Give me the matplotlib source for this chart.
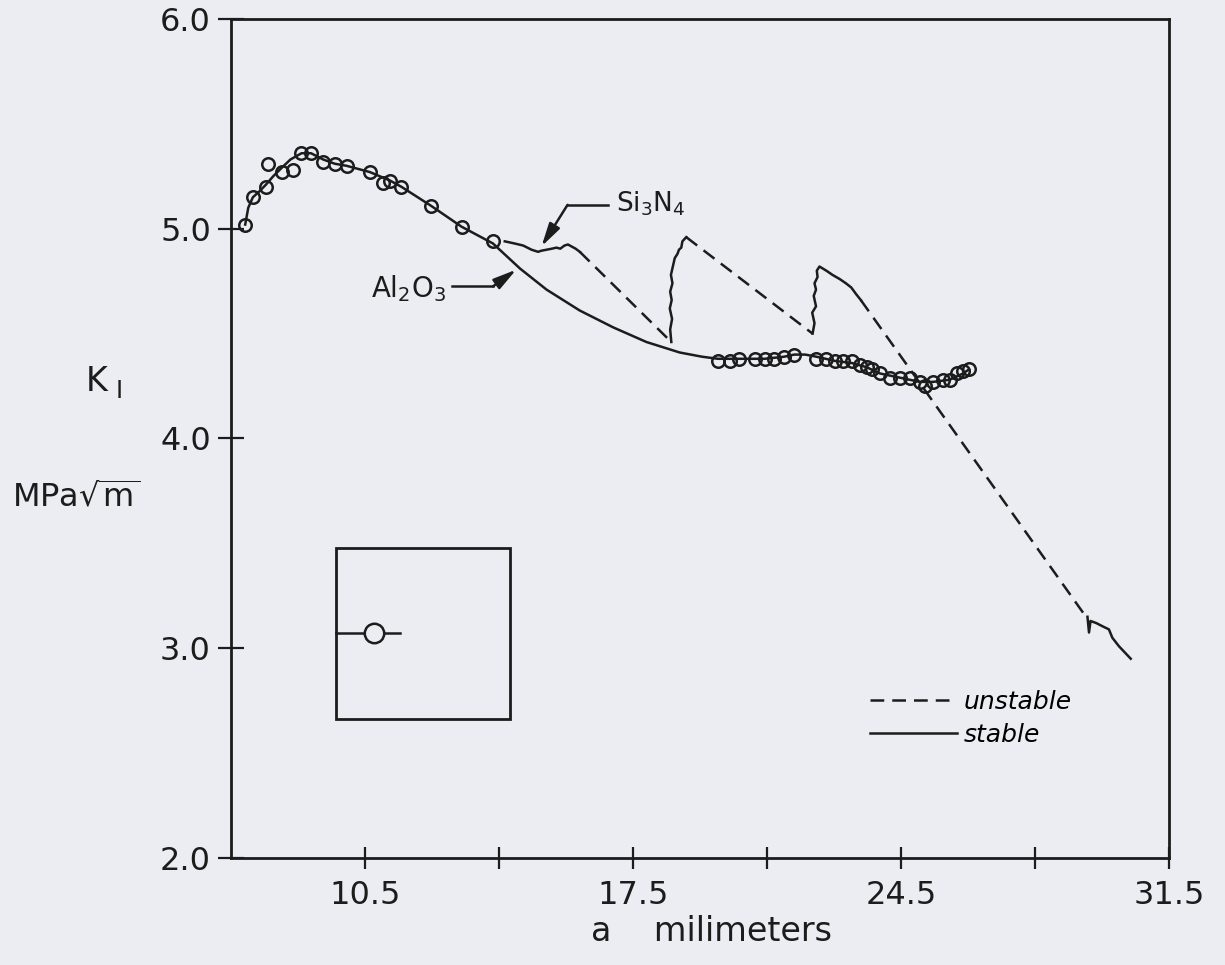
import matplotlib.pyplot as plt
from matplotlib.patches import Rectangle
from matplotlib.lines import Line2D

# Al2O3 measured points (open circles)
al2o3_x = [7.37, 7.57, 7.91, 7.97, 8.32, 8.63, 8.84, 9.09, 9.41, 9.71, 10.02, 10.63,
           10.96, 11.15, 11.45, 12.22, 13.02, 13.84,
           19.72, 20.03, 20.27, 20.68, 20.94, 21.19, 21.45, 21.71, 22.29, 22.53, 22.77,
           22.99, 23.21, 23.42, 23.60, 23.75, 23.95, 24.21, 24.47, 24.73, 24.99, 25.12,
           25.34, 25.60, 25.77, 25.95, 26.12, 26.28]
al2o3_y = [5.02, 5.15, 5.20, 5.31, 5.27, 5.28, 5.36, 5.36, 5.32, 5.31, 5.30, 5.27,
           5.22, 5.23, 5.20, 5.11, 5.01, 4.94,
           4.37, 4.37, 4.38, 4.38, 4.38, 4.38, 4.39, 4.40, 4.38, 4.38, 4.37,
           4.37, 4.37, 4.35, 4.34, 4.33, 4.31, 4.29, 4.29, 4.29, 4.27, 4.25,
           4.27, 4.28, 4.28, 4.31, 4.32, 4.33]

# smooth stable curve for Al2O3
stable_x = [7.37, 7.45, 7.57, 7.75, 7.91, 8.10, 8.32, 8.55, 8.84, 9.09, 9.41, 9.71,
            10.02, 10.63, 11.15, 11.45, 12.22, 13.02, 13.84, 14.55, 15.24, 16.11, 16.98,
            17.85, 18.72, 19.30, 19.72, 20.27, 20.94, 21.45, 21.71, 22.00, 22.29, 22.77,
            23.21, 23.60, 23.95, 24.47, 24.99, 25.34, 25.77, 26.12, 26.28]
stable_y = [5.02, 5.10, 5.15, 5.18, 5.21, 5.25, 5.29, 5.33, 5.36, 5.36, 5.33, 5.31,
            5.30, 5.27, 5.23, 5.20, 5.11, 5.01, 4.93, 4.81, 4.71, 4.61, 4.53,
            4.46, 4.41, 4.39, 4.38, 4.38, 4.38, 4.39, 4.40, 4.40, 4.39, 4.37,
            4.36, 4.34, 4.31, 4.29, 4.27, 4.27, 4.28, 4.31, 4.33]

# Si3N4 trace: solid = stable growth, dashed = unstable jumps
si_a_x = [14.15, 14.40, 14.63, 14.85, 15.02, 15.10, 15.24, 15.38, 15.50, 15.60, 15.71,
          15.80, 15.89, 16.00, 16.11]
si_a_y = [4.94, 4.93, 4.92, 4.90, 4.89, 4.895, 4.90, 4.905, 4.91, 4.905, 4.92,
          4.925, 4.916, 4.905, 4.89]
si_b_x = [16.11, 18.50]
si_b_y = [4.89, 4.46]
si_c_x = [18.50, 18.47, 18.52, 18.46, 18.51, 18.47, 18.53, 18.49, 18.54, 18.59, 18.66,
          18.70, 18.76, 18.79, 18.89]
si_c_y = [4.46, 4.52, 4.57, 4.62, 4.66, 4.70, 4.74, 4.78, 4.82, 4.86, 4.88,
          4.90, 4.91, 4.94, 4.96]
si_d_x = [18.89, 22.19]
si_d_y = [4.96, 4.50]
si_e_x = [22.19, 22.24, 22.18, 22.28, 22.22, 22.28, 22.24, 22.32, 22.30, 22.37, 22.55,
          22.71, 22.90, 23.06, 23.20, 23.32, 23.45]
si_e_y = [4.50, 4.55, 4.60, 4.63, 4.68, 4.71, 4.74, 4.77, 4.80, 4.82, 4.80,
          4.78, 4.76, 4.74, 4.72, 4.69, 4.66]
si_f_x = [23.45, 29.37]
si_f_y = [4.66, 3.14]
si_g_x = [29.37, 29.41, 29.45, 29.60, 29.76, 29.93, 30.02, 30.19, 30.50]
si_g_y = [3.15, 3.075, 3.13, 3.12, 3.105, 3.09, 3.05, 3.01, 2.95]

x_ticks = [10.5, 14.0, 17.5, 21.0, 24.5, 28.0, 31.5]
x_labels = ['10.5', '', '17.5', '', '24.5', '', '31.5']
y_ticks = [2.0, 3.0, 4.0, 5.0, 6.0]
y_labels = ['2.0', '3.0', '4.0', '5.0', '6.0']

bg = '#ecedf3'
ink = '#1c1c1c'
lw = 1.8
dash = (5.5, 3.2)

fig = plt.figure(figsize=(12.25, 9.65), dpi=100, facecolor=bg)
ax = fig.add_axes([0.1886, 0.1109, 0.7657, 0.8694], facecolor=bg)

ax.plot(stable_x, stable_y, color=ink, lw=lw, zorder=2)
ax.plot(al2o3_x, al2o3_y, 'o', ms=9, mfc='none', mec=ink, mew=1.8, zorder=3)

for xs, ys in [(si_a_x, si_a_y), (si_c_x, si_c_y), (si_e_x, si_e_y), (si_g_x, si_g_y)]:
    ax.plot(xs, ys, color=ink, lw=lw)
for xs, ys in [(si_b_x, si_b_y), (si_d_x, si_d_y), (si_f_x, si_f_y)]:
    ax.plot(xs, ys, color=ink, lw=lw, dashes=dash)

# symbol key box
ax.add_patch(Rectangle((9.74, 2.665), 4.54, 0.815, fill=False, ec=ink, lw=2.0))
ax.plot([9.74, 11.41], [3.075, 3.075], color=ink, lw=lw)
ax.plot([10.73], [3.075], 'o', ms=14, mfc=bg, mec=ink, mew=1.8)

# leaders
arrow = dict(arrowstyle='-|>,head_length=0.7,head_width=0.18', color=ink, lw=lw,
             shrinkA=0, shrinkB=0, mutation_scale=20)
ax.plot([15.79, 16.85], [5.114, 5.114], color=ink, lw=lw)
ax.annotate('', xy=(15.11, 4.916), xytext=(15.79, 5.114), arrowprops=arrow)
ax.text(17.05, 5.08, 'Si$_3$N$_4$', fontsize=19, color=ink, va='baseline')

ax.plot([12.77, 13.84], [4.725, 4.725], color=ink, lw=lw)
ax.annotate('', xy=(14.45, 4.805), xytext=(13.84, 4.725), arrowprops=arrow)
ax.text(12.62, 4.676, 'Al$_2$O$_3$', fontsize=20, color=ink, va='baseline', ha='right')

handles = [Line2D([], [], color=ink, lw=lw, dashes=dash),
           Line2D([], [], color=ink, lw=lw)]
ax.legend(handles, ['unstable', 'stable'], loc='upper left', bbox_to_anchor=(0.681, 0.2),
          frameon=False, handlelength=3.5, handletextpad=0.25, labelspacing=0.35,
          borderpad=0, borderaxespad=0, prop={'size': 18, 'style': 'italic'})

ax.set_xlim(7.0, 31.5)
ax.set_ylim(2.0, 6.0)
ax.set_xticks(x_ticks)
ax.set_xticklabels(x_labels)
ax.set_yticks(y_ticks)
ax.set_yticklabels(y_labels)
ax.tick_params(axis='y', direction='inout', length=19, width=1.6, pad=5,
               labelsize=23, colors=ink)
ax.tick_params(axis='x', direction='inout', length=16, width=1.6, pad=8,
               labelsize=23, colors=ink)
for s in ax.spines.values():
    s.set_linewidth(2.0)
    s.set_color(ink)

fig.text(0.581, 0.025, 'a    milimeters', fontsize=24, color=ink, ha='center')
fig.text(0.07, 0.595, 'K', fontsize=24, color=ink, va='baseline')
fig.text(0.094, 0.588, 'I', fontsize=17, color=ink, va='baseline')
fig.text(0.010, 0.474, r'MPa$\sqrt{\mathrm{m}}$', fontsize=23, color=ink, va='baseline')

fig.savefig('out.png', dpi=100, facecolor=bg)
